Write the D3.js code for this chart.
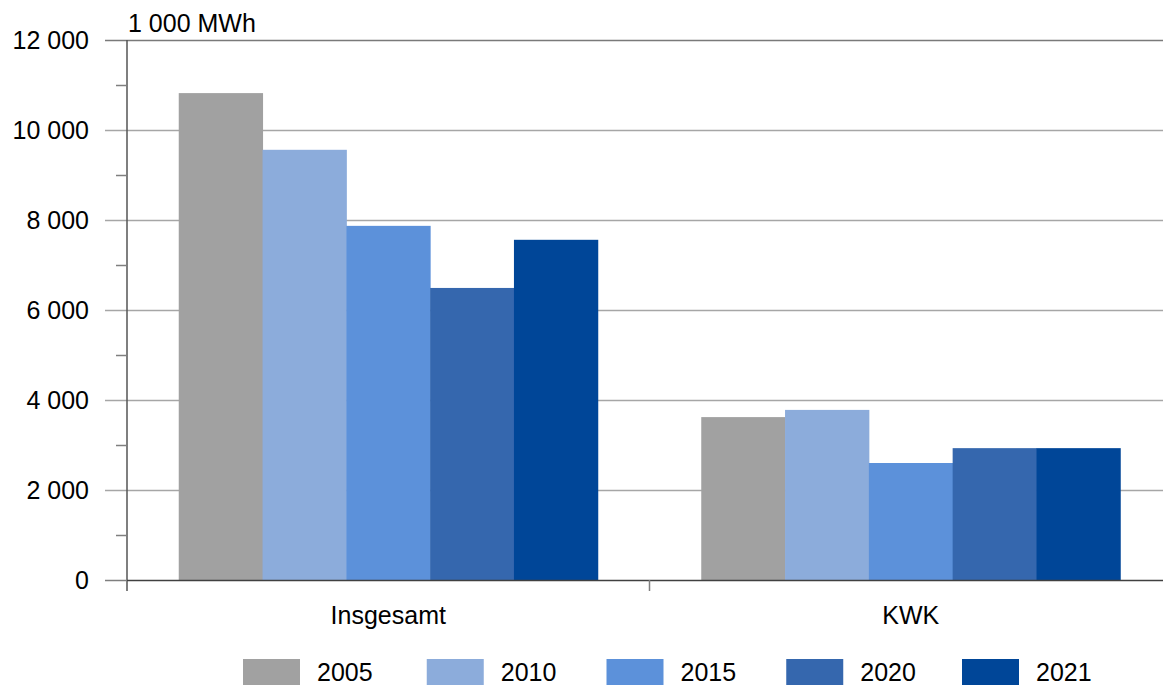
<!DOCTYPE html>
<html>
<head>
<meta charset="utf-8">
<script src="https://cdn.jsdelivr.net/npm/d3@7"></script>
<style>
  body { margin: 0; background: #fff; }
  svg { display: block; font-family: "Liberation Sans", Arial, sans-serif; }
</style>
</head>
<body>
<svg id="chart" width="1163" height="685"></svg>
<script>
// Data
var categories = ['Insgesamt', 'KWK']
var years = ['2005', '2010', '2015', '2020', '2021']
var values2005 = [10820, 3620]
var values2010 = [9560, 3780]
var values2015 = [7870, 2600]
var values2020 = [6490, 2930]
var values2021 = [7560, 2930]
var yTicks = [0, 2000, 4000, 6000, 8000, 10000, 12000]
var unitLabel = '1 000 MWh'

var series = [values2005, values2010, values2015, values2020, values2021]
var colors = ['#a1a1a1', '#8cacdb', '#5c91da', '#3567ae', '#004698']

var svg = d3.select('#chart')

// Scales
var y = d3.scaleLinear().domain([0, 12000]).range([580, 40])
var xCat = d3.scaleBand().domain(categories).range([127, 1172])
var groupPad = 51.75
var x1 = d3
  .scaleBand()
  .domain(years)
  .range([groupPad, xCat.bandwidth() - groupPad])

var fmt = function(v) {
  return d3.format(',')(v).replace(/,/g, ' ')
}

// Grid lines
var grid = svg.append('g')
grid
  .selectAll('line')
  .data(yTicks.filter(t => t > 0))
  .enter()
  .append('line')
  .attr('x1', 105)
  .attr('x2', 1163)
  .attr('y1', d => Math.round(y(d)) + 0.5)
  .attr('y2', d => Math.round(y(d)) + 0.5)
  .attr('stroke', d => (d === 12000 ? '#7a7a7a' : '#a6a6a6'))
  .attr('stroke-width', 1.5)

// Bars
var groups = svg
  .append('g')
  .selectAll('g')
  .data(categories)
  .enter()
  .append('g')
  .attr('transform', d => 'translate(' + xCat(d) + ',0)')

groups
  .selectAll('rect')
  .data((c, ci) => years.map((yr, i) => ({ year: yr, i: i, value: series[i][ci] })))
  .enter()
  .append('rect')
  .attr('x', d => x1(d.year))
  .attr('width', x1.bandwidth() + 0.5)
  .attr('y', d => y(d.value))
  .attr('height', d => y(0) - y(d.value))
  .attr('fill', d => colors[d.i])

// Y axis
var axis = svg.append('g')
axis
  .append('line')
  .attr('x1', 127)
  .attr('x2', 127)
  .attr('y1', y(12000))
  .attr('y2', 591)
  .attr('stroke', '#555')
  .attr('stroke-width', 1.5)

// minor ticks
axis
  .selectAll('.minor')
  .data(d3.range(1000, 12000, 2000))
  .enter()
  .append('line')
  .attr('class', 'minor')
  .attr('x1', 116)
  .attr('x2', 127)
  .attr('y1', d => Math.round(y(d)) + 0.5)
  .attr('y2', d => Math.round(y(d)) + 0.5)
  .attr('stroke', '#7f7f7f')
  .attr('stroke-width', 1.5)

// major tick at zero
axis
  .append('line')
  .attr('x1', 105)
  .attr('x2', 127)
  .attr('y1', Math.round(y(0)) + 0.5)
  .attr('y2', Math.round(y(0)) + 0.5)
  .attr('stroke', '#7f7f7f')
  .attr('stroke-width', 1.5)

axis
  .selectAll('text')
  .data(yTicks)
  .enter()
  .append('text')
  .attr('x', 89)
  .attr('y', d => y(d))
  .attr('dy', '0.35em')
  .attr('text-anchor', 'end')
  .attr('font-size', 25)
  .attr('fill', '#000')
  .text(fmt)

// Unit label
svg
  .append('text')
  .attr('x', 128)
  .attr('y', 32)
  .attr('font-size', 25)
  .attr('fill', '#000')
  .text(unitLabel)

// X axis baseline
svg
  .append('line')
  .attr('x1', 127)
  .attr('x2', 1163)
  .attr('y1', Math.round(y(0)) + 0.5)
  .attr('y2', Math.round(y(0)) + 0.5)
  .attr('stroke', '#404040')
  .attr('stroke-width', 1.5)

// category separator ticks
svg
  .append('g')
  .selectAll('line')
  .data(categories.slice(1))
  .enter()
  .append('line')
  .attr('x1', d => xCat(d))
  .attr('x2', d => xCat(d))
  .attr('y1', 580)
  .attr('y2', 591)
  .attr('stroke', '#7f7f7f')
  .attr('stroke-width', 1.5)

// category labels
svg
  .append('g')
  .selectAll('text')
  .data(categories)
  .enter()
  .append('text')
  .attr('x', d => xCat(d) + xCat.bandwidth() / 2)
  .attr('y', 624)
  .attr('text-anchor', 'middle')
  .attr('font-size', 25)
  .attr('fill', '#000')
  .text(d => d)

// Legend (first gap in the original is a little wider)
var legendX = d3.scalePoint().domain(years).range([243, 962])
var legend = svg
  .append('g')
  .selectAll('g')
  .data(years)
  .enter()
  .append('g')
  .attr('transform', (d, i) => 'translate(' + (legendX(d) + (i > 0 && i < 4 ? 4 : 0)) + ',659)')

legend
  .append('rect')
  .attr('width', 57)
  .attr('height', 30)
  .attr('fill', (d, i) => colors[i])

legend
  .append('text')
  .attr('x', 74)
  .attr('y', 22)
  .attr('font-size', 25)
  .attr('fill', '#000')
  .text(d => d)
</script>
</body>
</html>
